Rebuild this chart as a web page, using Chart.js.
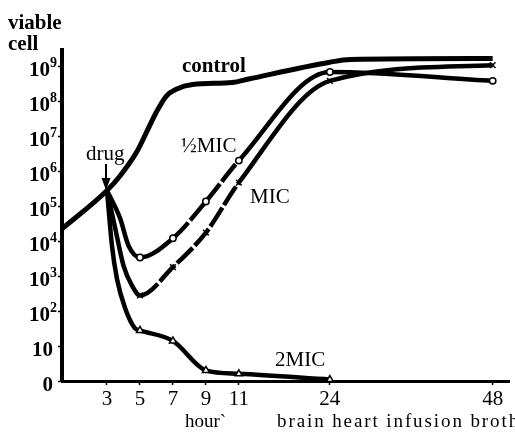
<!DOCTYPE html>
<html>
<head>
<meta charset="utf-8">
<script src="https://cdn.jsdelivr.net/npm/chart.js@4.4.1/dist/chart.umd.min.js"></script>
<style>
  html, body { margin: 0; padding: 0; background: #fff; }
  #wrap { width: 515px; height: 433px; position: relative; }
</style>
</head>
<body>
<div id="wrap"><canvas id="c" width="515" height="433"></canvas></div>
<script>
// ---- data (hours, viable cells) ----
const tickHours = [3, 5, 7, 9, 11, 24, 48];
const yTickValues = [1, 1e1, 1e2, 1e3, 1e4, 1e5, 1e6, 1e7, 1e8, 1e9];
const yTickBase = ['0', '10', '10', '10', '10', '10', '10', '10', '10', '10'];
const yTickExponent = ['', '', '2', '3', '4', '5', '6', '7', '8', '9'];
const markerHours = [5, 7, 9, 11, 24, 48];

const controlHours = [0.3, 3, 3.8, 4.8, 5.4, 6, 6.6, 7.2, 8.2, 10.6, 12.4, 24, 27, 48];
const controlCells = [2.3e4, 2.8e5, 7.4e5, 3.5e6, 1.3e7, 4.9e7, 1.4e8, 2.2e8, 3.0e8, 3.4e8, 4.3e8, 1.3e9, 1.55e9, 1.65e9];

const halfMicHours = [3, 3.8, 4.3, 5, 7, 9, 11, 24, 48];
const halfMicCells = [2.8e5, 4.4e4, 7.5e3, 3.4e3, 1.2e4, 1.35e5, 2.0e6, 6.8e8, 3.8e8];

const micHours = [3, 3.5, 4, 4.5, 5, 7, 9, 11, 24, 48];
const micCells = [2.8e5, 2.3e4, 2.0e3, 5.5e2, 2.8e2, 1.8e3, 1.75e4, 4.7e5, 3.8e8, 1.07e9];

const twoMicHours = [3, 3.3, 3.6, 4.1, 4.7, 5, 7, 9, 11, 24];
const twoMicCells = [2.8e5, 7.5e3, 8.5e2, 1.2e2, 32, 28, 14, 2.0, 1.6, 1.1];

// ---- broken time axis: hours -> axis units (compressed after 11 h) ----
const knotHours = [0, 11, 24, 48];
const knotUnits = [0, 11, 16.52, 26.4];
function warp(h) {
  for (let i = 1; i < knotHours.length; i++) {
    if (h <= knotHours[i] || i === knotHours.length - 1) {
      const t = (h - knotHours[i - 1]) / (knotHours[i] - knotHours[i - 1]);
      return knotUnits[i - 1] + t * (knotUnits[i] - knotUnits[i - 1]);
    }
  }
}

function series(hs, vs) { return hs.map((h, i) => ({ x: warp(h), y: vs[i], h: h })); }
function markerRadius(r) {
  return ctx => (ctx.raw && markerHours.includes(ctx.raw.h)) ? r : 0;
}
function dashed(from, to) {
  return ctx => (ctx.p0.raw.h >= from && ctx.p1.raw.h <= to) ? [22, 3] : undefined;
}

const SERIF = '"Liberation Serif", "DejaVu Serif", serif';

const textPlugin = {
  id: 'texts',
  afterDraw(chart) {
    const c = chart.ctx;
    const ys = chart.scales.y;
    c.save();
    c.fillStyle = '#000';
    c.textBaseline = 'alphabetic';

    // y tick labels with real superscripts
    c.textAlign = 'right';
    yTickValues.forEach((v, i) => {
      const y = ys.getPixelForValue(v) + 3;
      const exp = yTickExponent[i];
      if (exp) {
        c.font = 'bold 14px ' + SERIF;
        const w = c.measureText(exp).width;
        c.fillText(exp, 57, y - 2);
        c.font = 'bold 21px ' + SERIF;
        c.fillText(yTickBase[i], 57 - w, y + 7);
      } else {
        c.font = 'bold 21px ' + SERIF;
        c.fillText(yTickBase[i], 53, y + 7);
      }
    });

    c.textAlign = 'left';
    c.font = 'bold 21px ' + SERIF;
    c.fillText('viable', 8, 29);
    c.fillText('cell', 8, 50);
    c.fillText('control', 182, 72);
    c.font = '21px ' + SERIF;
    c.fillText('drug', 86, 160);
    c.fillText('½MIC', 181, 152);
    c.fillText('MIC', 250, 203);
    c.fillText('2MIC', 275, 366);
    c.font = '19px ' + SERIF;
    c.fillText('hour`', 185, 427);
    c.letterSpacing = '1.9px';
    c.fillText('brain heart infusion broth', 277, 427);
    c.letterSpacing = '0px';
    // drug arrow
    c.strokeStyle = '#000';
    c.lineWidth = 2;
    c.beginPath();
    c.moveTo(106, 164);
    c.lineTo(106, 182);
    c.stroke();
    c.beginPath();
    c.moveTo(101.5, 178);
    c.lineTo(110.5, 178);
    c.lineTo(106, 190);
    c.closePath();
    c.fill();
    c.restore();
  }
};

const common = {
  borderColor: '#000',
  backgroundColor: '#fff',
  pointBorderColor: '#000',
  pointBackgroundColor: '#fff',
  pointBorderWidth: 1.5,
  pointHoverRadius: 0,
  cubicInterpolationMode: 'monotone',
  fill: false,
  clip: false
};

new Chart(document.getElementById('c'), {
  type: 'line',
  data: {
    datasets: [
      Object.assign({}, common, {
        label: 'control',
        data: series(controlHours, controlCells),
        borderWidth: 5,
        pointRadius: 0
      }),
      Object.assign({}, common, {
        label: '½MIC',
        data: series(halfMicHours, halfMicCells),
        borderWidth: 4.5,
        pointStyle: 'circle',
        pointRadius: markerRadius(3.2),
        segment: { borderDash: dashed(7, 11) }
      }),
      Object.assign({}, common, {
        label: 'MIC',
        data: series(micHours, micCells),
        borderWidth: 4.5,
        pointStyle: 'crossRot',
        pointRadius: markerRadius(4),
        segment: { borderDash: dashed(5, 11) }
      }),
      Object.assign({}, common, {
        label: '2MIC',
        data: series(twoMicHours, twoMicCells),
        borderWidth: 4.5,
        pointStyle: 'triangle',
        pointRadius: markerRadius(4)
      })
    ]
  },
  options: {
    responsive: false,
    animation: false,
    events: [],
    layout: { padding: { top: 50, right: 5, left: 0, bottom: 0 } },
    plugins: { legend: { display: false }, tooltip: { enabled: false }, title: { display: false } },
    scales: {
      x: {
        type: 'linear',
        min: 0.27,
        max: 27.42,
        afterBuildTicks: s => { s.ticks = tickHours.map(h => ({ value: warp(h) })); },
        afterFit: s => { s.height = 52; },
        ticks: {
          autoSkip: false,
          maxRotation: 0,
          color: '#000',
          padding: 2,
          font: { family: SERIF, size: 21 },
          callback: (v, i) => String(tickHours[i])
        },
        grid: { drawOnChartArea: false, drawTicks: true, tickLength: 4, color: '#000', tickWidth: 1.5 },
        border: { display: true, color: '#000', width: 3 }
      },
      y: {
        type: 'logarithmic',
        min: 1,
        max: 2.9e9,
        afterBuildTicks: s => { s.ticks = yTickValues.map(v => ({ value: v })); },
        afterFit: s => { s.width = 62; },
        ticks: { display: false },
        grid: { drawOnChartArea: false, drawTicks: true, tickLength: 4, color: '#000', tickWidth: 1.5 },
        border: { display: true, color: '#000', width: 4 }
      }
    }
  },
  plugins: [textPlugin]
});
</script>
</body>
</html>
